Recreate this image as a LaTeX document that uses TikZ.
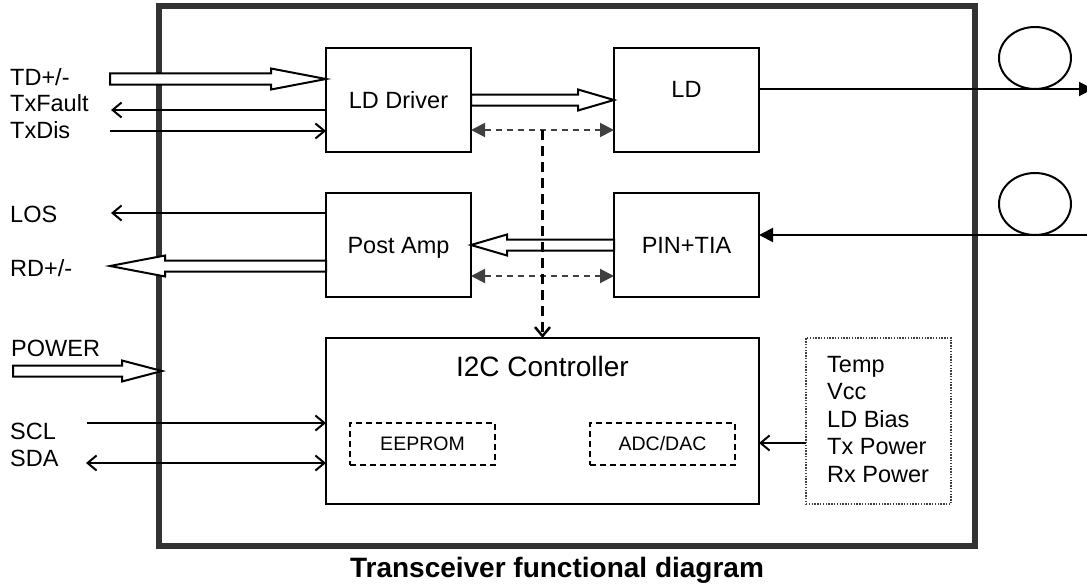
\documentclass[tikz,border=0pt]{standalone}
\usepackage{fontspec}
\setmainfont{Liberation Sans}
\usetikzlibrary{arrows.meta,calc}
\definecolor{frame}{HTML}{333333}
\definecolor{dgray}{HTML}{404040}
\newcommand\fatarrow[3]{%
  \coordinate (fa-s) at #1;
  \coordinate (fa-t) at #2;
  \coordinate (fa-b) at ($(fa-t)!#3!(fa-s)$);
  \draw[fat] ($(fa-s)!5.5pt!90:(fa-t)$) -- ($(fa-b)!5.5pt!90:(fa-t)$) -- ($(fa-b)!10.5pt!90:(fa-t)$) -- (fa-t)
     -- ($(fa-b)!10.5pt!-90:(fa-t)$) -- ($(fa-b)!5.5pt!-90:(fa-t)$) -- ($(fa-s)!5.5pt!-90:(fa-t)$) -- cycle;
}
\tikzset{
  box/.style={draw, line width=2pt, outer sep=0pt, inner sep=0pt, text depth=0pt,
    font=\fontsize{23.5}{28}\selectfont},
  dbox/.style={draw, line width=1.6pt, dash pattern=on 6pt off 4pt, outer sep=0pt, inner sep=0pt,
    minimum width=145pt, minimum height=42pt, font=\fontsize{19.5}{23}\selectfont},
  lbl/.style={anchor=base west, inner sep=0pt, font=\fontsize{23.5}{28}\selectfont},
  fat/.style={draw=black, fill=white, line width=2pt, line join=miter},
  sig/.style={line width=2pt, -{Straight Barb[length=9pt,width=15pt]}},
  bsig/.style={line width=2pt, {Straight Barb[length=9pt,width=15pt]}-{Straight Barb[length=9pt,width=15pt]}},
  opt/.style={line width=2pt, -{Triangle[length=14pt,width=14pt]}},
  gdash/.style={draw=dgray, line width=2pt, dash pattern=on 6pt off 5pt,
    {Triangle[length=14pt,width=14pt]}-{Triangle[length=14pt,width=14pt]}},
  bdash/.style={line width=2.5pt, dash pattern=on 10pt off 6pt, -{Straight Barb[length=9pt,width=15pt]}},
}
\begin{document}
\begin{tikzpicture}[x=1pt,y=-1pt]
\useasboundingbox (0,0) rectangle (1087,586);
% outer frame
\node[draw=frame, line width=5.5pt, outer sep=0pt, inner sep=0pt, minimum width=816pt, minimum height=540pt] (outer) at (567,276) {};
% blocks
\node[box, minimum width=145pt, minimum height=104pt] (ldd) at (398.5,100) {LD Driver};
\node[box, minimum width=145pt, minimum height=104pt] (ld) at (686.5,100) {};
\node[anchor=base, inner sep=0pt, font=\fontsize{23.5}{28}\selectfont] (ldt) at ($(ld.center)+(0,-3)$) {LD};
\node[box, minimum width=145pt, minimum height=104pt] (pa) at (398.5,245) {Post Amp};
\node[box, minimum width=145pt, minimum height=104pt] (pin) at (686.5,245) {PIN+TIA};
\node[box, minimum width=433pt, minimum height=166pt] (i2c) at (542.5,421) {};
\node[anchor=base, inner sep=0pt, font=\fontsize{28}{32}\selectfont] (i2ct) at ($(i2c.north)+(0,38)$) {I2C Controller};
\node[dbox] (eep) at (422.5,444) {EEPROM};
\node[dbox] (adc) at (662.5,444) {ADC/DAC};
\node[draw=black!75, line width=1.4pt, dash pattern=on 1.4pt off 1.4pt, outer sep=0pt, inner sep=0pt,
  minimum width=145pt, minimum height=166pt] (sens) at (878.5,421) {};
\foreach \t [count=\i] in {Temp,Vcc,LD Bias,Tx Power,Rx Power}
  \node[lbl] (s\i) at (827,{344.5+27.5*\i}) {\t};
% fibre loops
\draw[line width=2pt] (1035,58) ellipse [x radius=36pt, y radius=31pt];
\draw[line width=2pt] (1035,204) ellipse [x radius=36pt, y radius=31pt];
% left labels
\node[lbl] (td) at (10,85) {TD+/-};
\node[lbl] (txf) at (10,111) {TxFault};
\node[lbl] (txd) at (10,138) {TxDis};
\node[lbl] (los) at (10,222) {LOS};
\node[lbl] (rd) at (10,276) {RD+/-};
\node[lbl] (pwr) at (11,356) {POWER};
\node[lbl] (scl) at (10,439) {SCL};
\node[lbl] (sda) at (10,466) {SDA};
% free ends
\coordinate (tdS) at (110,79);
\coordinate (txfE) at (111,110);
\coordinate (txdS) at (110,131);
\coordinate (losE) at (111,213);
\coordinate (rdE) at (110,266);
\coordinate (pwS) at (13,371);
\coordinate (sclS) at (87,423);
\coordinate (sdaS) at (86,463);
\coordinate (fibOut) at (1093,89);
\coordinate (fibIn) at (1087,235);
% fat arrows
\fatarrow{(tdS)}{($(ldd.west)+(0,-21)$)}{55pt}
\fatarrow{($(pa.west)+(0,21)$)}{(rdE)}{55pt}
\fatarrow{(pwS)}{($(outer.west |- pwS)+(3,0)$)}{40pt}
\fatarrow{($(ldd.east)$)}{($(ld.west)$)}{36pt}
\fatarrow{($(pin.west)$)}{($(pa.east)$)}{36pt}
% thin signals
\draw[sig] ($(ldd.west)+(0,10)$) -- (txfE);
\draw[sig] (txdS) -- ($(ldd.west)+(0,31)$);
\draw[sig] ($(pa.west)+(0,-32)$) -- (losE);
\draw[sig] (sclS) -- ($(i2c.west)+(0,2)$);
\draw[bsig] (sdaS) -- ($(i2c.west)+(0,42)$);
\draw[sig] ($(sens.west)+(0,22)$) -- ($(i2c.east)+(0,22)$);
% optical
\draw[opt] ($(ld.east)+(0,-11)$) -- (fibOut);
\draw[opt] (fibIn) -- ($(pin.east)+(0,-10)$);
% control bus
\draw[gdash] ($(ldd.south east)+(0,-22)$) -- ($(ld.south west)+(0,-22)$);
\draw[gdash] ($(pa.south east)+(0,-21)$) -- ($(pin.south west)+(0,-21)$);
\coordinate (bus) at ($(ldd.south east)!0.5!(ld.south west)+(0,-22)$);
\draw[bdash] (bus) -- (bus |- i2c.north);
% title
\node[anchor=base, inner sep=0pt, font=\bfseries\fontsize{28}{32}\selectfont] (title) at (557,577) {Transceiver functional diagram};
\end{tikzpicture}
\end{document}
